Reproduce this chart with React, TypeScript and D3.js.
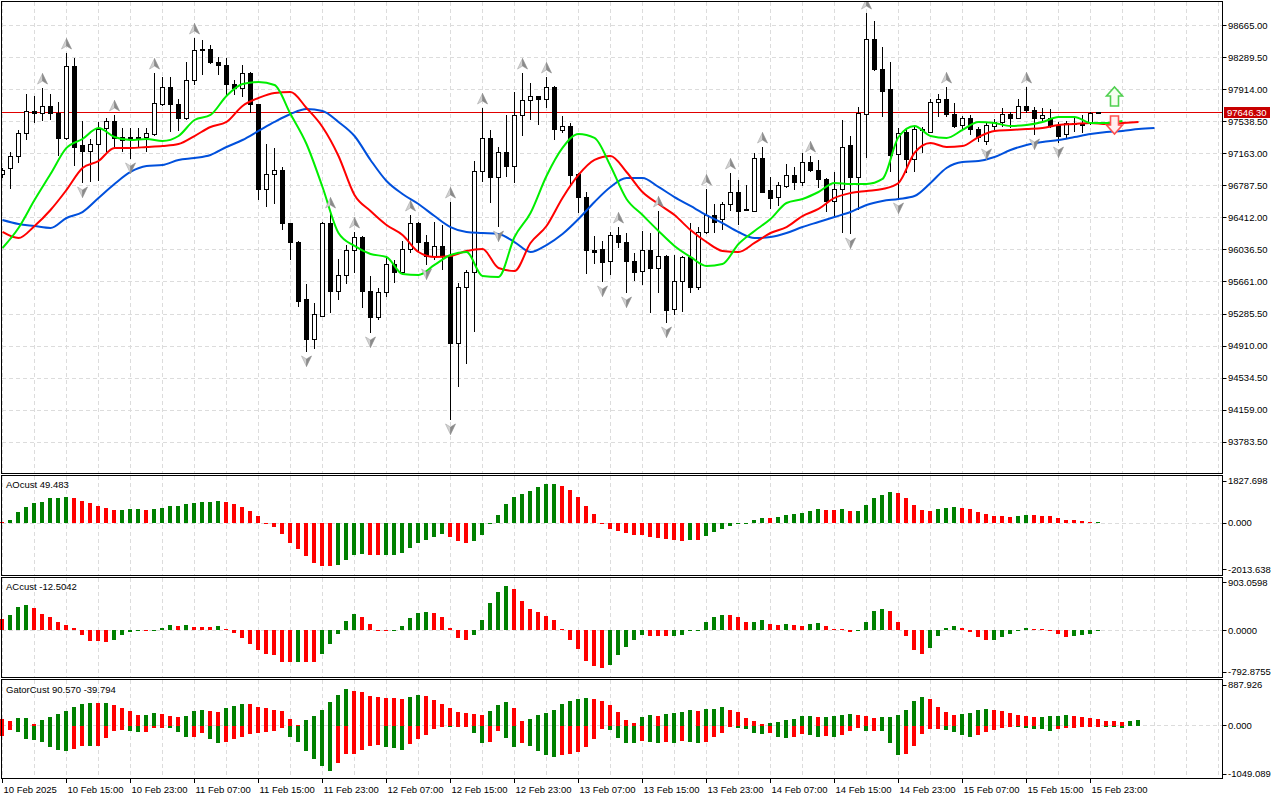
import * as d3 from 'd3';

// ---- price axis / labels ----
const priceTicks = [98665.0, 98289.5, 97914.0, 97538.5, 97163.0, 96787.5, 96412.0, 96036.5, 95661.0, 95285.5, 94910.0, 94534.5, 94159.0, 93783.5];
const lastPrice = 97646.3;

const timeLabels = [
  '10 Feb 2025', '10 Feb 15:00', '10 Feb 23:00', '11 Feb 07:00', '11 Feb 15:00', '11 Feb 23:00',
  '12 Feb 07:00', '12 Feb 15:00', '12 Feb 23:00', '13 Feb 07:00', '13 Feb 15:00', '13 Feb 23:00',
  '14 Feb 07:00', '14 Feb 15:00', '14 Feb 23:00', '15 Feb 07:00', '15 Feb 15:00', '15 Feb 23:00',
];
const LABEL_EVERY = 8; // bars between time labels

// ---- H1 candles ----
const open = [
  96917, 96987, 97128, 97398, 97656, 97644, 97715, 97644, 97339, 98184,
  97257, 97187, 97280, 97468, 97539, 97351, 97339, 97339, 97351, 97386,
  97739, 97949, 97739, 97574, 98031, 98390, 98395, 98242, 98207, 97973,
  97926, 98113, 97739, 96741, 96917, 96975, 96342, 96130, 95450, 94992,
  95262, 96353, 95544, 95743, 96025, 96189, 95544, 95250, 95532, 95861,
  95778, 96037, 96342, 96119, 95955, 96072, 95966, 94934, 95591, 95778,
  96952, 97339, 96893, 97175, 97011, 97609, 97785, 97832, 97797, 97949,
  97433, 97480, 96917, 96647, 96025, 96037, 95896, 96201, 96130, 95896,
  95790, 96025, 95825, 95955, 95333, 95661, 95943, 95602, 96236, 96447,
  96389, 96576, 96717, 96506, 96494, 97105, 96729, 96647, 96787, 96905,
  96834, 97069, 96964, 96858, 96611, 96752, 97257, 96893, 97621, 98501,
  98160, 97914, 97152, 97421, 97093, 97433, 97421, 97762, 97808, 97632,
  97492, 97574, 97456, 97315, 97480, 97527, 97621, 97585, 97715, 97679,
  97574, 97585, 97503, 97386, 97515, 97510, 97515, 97650,
];
const high = [
  96999, 97187, 97445, 97867, 97844, 97937, 97867, 97773, 98348, 98289,
  97550, 97339, 97539, 97585, 97621, 97468, 97468, 97468, 97468, 98113,
  98067, 98067, 97808, 98242, 98524, 98501, 98442, 98301, 98289, 98031,
  98207, 98125, 97750, 97280, 97234, 97011, 96353, 96142, 95638, 95415,
  96365, 96482, 95931, 96095, 96248, 96201, 95732, 95591, 95955, 95919,
  96142, 96447, 96365, 96213, 96365, 96330, 96600, 95649, 95802, 97081,
  97703, 97445, 97245, 97621, 97890, 98113, 97996, 97844, 98067, 97961,
  97609, 97527, 96940, 96717, 96201, 96142, 96248, 96306, 96236, 96001,
  96260, 96236, 96494, 95978, 95978, 95966, 96353, 96306, 96752, 96576,
  96600, 96940, 96858, 96799, 97175, 97245, 96893, 96834, 97046, 97011,
  97175, 97140, 97093, 96881, 96952, 97562, 97374, 97715, 98817, 98724,
  98419, 98242, 97468, 97468, 97492, 97480, 97808, 97867, 97949, 97762,
  97609, 97621, 97480, 97539, 97574, 97703, 97656, 97808, 97949, 97715,
  97703, 97691, 97539, 97550, 97609, 97621, 97656, 97660,
];
const low = [
  96881, 96752, 97057, 97327, 97527, 97550, 97562, 97140, 97327, 97022,
  96823, 96834, 96846, 97187, 97245, 97187, 97105, 97234, 97187, 97374,
  97727, 97421, 97433, 97562, 97973, 98090, 98219, 98090, 97855, 97855,
  97832, 97644, 96623, 96541, 96576, 96271, 95919, 95368, 94840, 94875,
  95250, 95297, 95450, 95638, 95767, 95356, 95063, 95215, 95485, 95649,
  95767, 96001, 96013, 95861, 95919, 95802, 94042, 94429, 94699, 95074,
  96834, 96588, 96306, 96893, 96823, 97374, 97562, 97503, 97703, 97327,
  97409, 96776, 96471, 95755, 95872, 95661, 95743, 96060, 95532, 95673,
  95626, 95297, 95532, 95180, 95274, 95309, 95532, 95567, 96224, 96236,
  96271, 96494, 96330, 96494, 96482, 96705, 96518, 96553, 96764, 96741,
  96787, 96952, 96764, 96482, 96435, 96236, 96224, 96506, 97116, 98137,
  97597, 96952, 96635, 96940, 96952, 97175, 97409, 97597, 97597, 97468,
  97445, 97386, 97304, 97269, 97421, 97480, 97468, 97574, 97644, 97386,
  97539, 97468, 97292, 97351, 97421, 97409, 97503, 97632,
];
const close = [
  96964, 97128, 97398, 97656, 97644, 97715, 97644, 97339, 98184, 97245,
  97187, 97280, 97456, 97539, 97339, 97327, 97351, 97351, 97398, 97750,
  97949, 97739, 97574, 98020, 98383, 98385, 98231, 98207, 97973, 97926,
  98113, 97739, 96752, 96917, 96964, 96342, 96130, 95438, 94992, 95274,
  96353, 95544, 95743, 96025, 96189, 95544, 95250, 95532, 95861, 95778,
  96037, 96342, 96119, 95955, 96072, 95955, 94934, 95591, 95778, 96952,
  97339, 96893, 97175, 97011, 97609, 97785, 97832, 97797, 97949, 97445,
  97480, 96905, 96647, 96025, 96013, 95884, 96201, 96130, 95896, 95778,
  96025, 95825, 95955, 95321, 95661, 95943, 95602, 96236, 96447, 96365,
  96576, 96717, 96494, 96500, 97105, 96717, 96635, 96799, 96905, 96834,
  97069, 96964, 96858, 96611, 96752, 97245, 96893, 97644, 98501, 98149,
  97902, 97140, 97409, 97093, 97456, 97456, 97762, 97808, 97621, 97480,
  97574, 97445, 97351, 97492, 97527, 97621, 97585, 97715, 97668, 97574,
  97609, 97492, 97374, 97515, 97510, 97512, 97644, 97646.3,
];

// ---- Alligator (read every LINE_STEP bars, already shifted forward) ----
const LINE_STEP = 2;
const jaw = [
  96389, 96342, 96318, 96295, 96412, 96482, 96647, 96811, 96952, 97022,
  97034, 97093, 97116, 97152, 97245, 97327, 97433, 97539, 97632, 97691,
  97668, 97539, 97374, 97093, 96846, 96694, 96576, 96435, 96306, 96248,
  96236, 96224, 96130, 96013, 96095, 96224, 96400, 96600, 96776, 96881,
  96881, 96776, 96658, 96553, 96447, 96353, 96248, 96177, 96189, 96236,
  96306, 96365, 96424, 96482, 96565, 96611, 96635, 96670, 96823, 96999,
  97069, 97081, 97128, 97210, 97269, 97304, 97327, 97362, 97398, 97421,
  97433, 97456, 97468,
];
const teeth = [
  96248, 96177, 96318, 96506, 96741, 96999, 97081, 97234, 97234, 97245,
  97257, 97280, 97374, 97480, 97539, 97727, 97820, 97879, 97890, 97703,
  97480, 97140, 96682, 96494, 96330, 96213, 96013, 95955, 95966, 96025,
  96048, 95825, 95790, 96119, 96318, 96647, 96917, 97093, 97140, 96952,
  96717, 96576, 96447, 96271, 96130, 96025, 96013, 96119, 96236, 96306,
  96435, 96518, 96647, 96705, 96729, 96752, 96823, 97175, 97292, 97245,
  97257, 97362, 97433, 97445, 97456, 97468, 97503, 97515, 97527, 97515,
  97527, 97539,
];
const lips = [
  96060, 96295, 96623, 96928, 97234, 97339, 97468, 97362, 97327, 97339,
  97315, 97374, 97562, 97621, 97844, 97984, 98008, 97973, 97632, 97280,
  96776, 96236, 96084, 95990, 95955, 95755, 95743, 95861, 95978, 96013,
  95732, 95720, 96189, 96471, 96905, 97234, 97398, 97351, 97022, 96635,
  96447, 96260, 96084, 95955, 95849, 95872, 96107, 96260, 96400, 96588,
  96635, 96717, 96823, 96811, 96811, 96870, 97362, 97492, 97374, 97351,
  97445, 97539, 97527, 97492, 97503, 97539, 97597, 97597, 97527, 97527,
  97550,
];

// ---- Fractals and signal arrows ----
const fractalUp = [5, 8, 14, 19, 24, 41, 44, 51, 56, 60, 65, 68, 77, 82, 88, 91, 95, 101, 108, 118, 128];
const fractalDown = [10, 16, 38, 46, 53, 56, 62, 75, 78, 83, 106, 112, 123, 129, 132];
const signalUp = { bar: 139, price: 97727 };
const signalDown = { bar: 139, price: 97609 };

// ---- Awesome oscillator ----
const ao = [
  40, 130, 465, 707, 855, 925, 1085, 1090, 1142, 1098,
  968, 881, 751, 664, 564, 570, 608, 615, 580, 590,
  664, 751, 755, 811, 855, 898, 925, 955, 911, 825,
  707, 521, 304, -10, -187, -490, -855, -1128, -1432, -1723,
  -1866, -1870, -1823, -1606, -1389, -1345, -1389, -1390, -1385, -1375,
  -1288, -1071, -854, -724, -593, -463, -593, -767, -854, -767,
  -506, -58, 362, 839, 1143, 1273, 1404, 1577, 1707, 1710,
  1621, 1447, 1143, 752, 405, -5, -246, -362, -449, -500,
  -510, -593, -637, -680, -724, -767, -724, -730, -550, -376,
  -246, -116, -20, -10, 145, 232, 225, 275, 362, 405,
  449, 535, 622, 579, 575, 622, 535, 540, 796, 1100,
  1230, 1360, 1317, 1100, 796, 579, 535, 622, 666, 709,
  666, 622, 492, 405, 318, 315, 275, 318, 362, 360,
  318, 315, 232, 145, 140, 70, 35, 49.483,
];
const aoTicks = [1827.698, 0, -2013.638];

// ---- Accelerator oscillator ----
const ac = [
  222, 285, 443, 475, 424, 304, 253, 152, 95, 38,
  -82, -203, -205, -222, -190, -89, -25, -12, -14, -2,
  51, 95, 76, 95, 63, 60, 58, 76, 32, -51,
  -146, -266, -380, -450, -475, -602, -605, -600, -606, -608,
  -456, -266, -63, 171, 317, 253, 114, 13, -3, 10,
  82, 234, 329, 348, 329, 253, 44, -146, -184, -89,
  196, 519, 728, 842, 785, 557, 405, 348, 272, 196,
  25, -184, -354, -582, -677, -715, -658, -468, -316, -184,
  -82, -101, -102, -104, -100, -82, 2, 5, 158, 253,
  291, 289, 253, 158, 160, 196, 120, 101, 120, 100,
  82, 120, 139, 82, 25, 20, -25, 2, 158, 367,
  405, 367, 158, -108, -373, -449, -335, -108, 44, 82,
  44, -32, -127, -184, -180, -127, -70, 5, 44, 25,
  15, -8, -70, -127, -108, -89, -70, -12.5042,
];
const acTicks = [903.0598, 0, -792.8755];

// ---- Gator oscillator ----
const gatorUp = [
  145, 109, 167, 170, 36, 131, 196, 254, 327, 414,
  473, 502, 487, 490, 458, 393, 313, 233, 235, 269,
  265, 218, 200, 205, 313, 349, 313, 310, 378, 436,
  473, 470, 414, 378, 349, 327, 145, 20, 131, 218,
  349, 509, 676, 800, 763, 727, 654, 632, 612, 603,
  574, 618, 662, 640, 553, 465, 378, 291, 269, 247,
  225, 313, 443, 509, 378, 95, 138, 225, 269, 334,
  465, 531, 574, 596, 574, 531, 443, 291, 116, 51,
  182, 225, 222, 247, 269, 291, 334, 313, 356, 358,
  400, 334, 291, 160, 95, 29, 51, 73, 116, 138,
  204, 206, 182, 184, 204, 225, 247, 245, 204, 160,
  182, 184, 225, 334, 531, 618, 574, 400, 291, 225,
  247, 269, 334, 356, 354, 313, 269, 225, 204, 182,
  184, 204, 206, 225, 204, 182, 160, 138, 97, 95,
  90.57, 95, 116,
];
const gatorDown = [
  -218, -95, -131, -291, -313, -342, -458, -516, -545, -509,
  -436, -440, -436, -269, -124, -95, -124, -145, -131, -58,
  -51, -58, -145, -254, -240, -167, -291, -364, -360, -291,
  -254, -182, -167, -145, -109, -51, -254, -342, -545, -727,
  -872, -981, -800, -618, -603, -531, -436, -415, -455, -473,
  -516, -407, -298, -211, -80, -15, -36, -15, -12, -167,
  -364, -342, -124, -276, -451, -385, -429, -538, -625, -669,
  -625, -622, -560, -451, -298, -80, -102, -276, -364, -385,
  -320, -342, -385, -342, -364, -320, -342, -385, -342, -254,
  -167, -10, -58, -80, -167, -189, -167, -233, -276, -233,
  -189, -211, -233, -231, -235, -211, -124, -58, -124, -120,
  -124, -364, -625, -603, -429, -189, -80, -78, -102, -145,
  -211, -254, -211, -145, -102, -58, -15, -36, -58, -60,
  -80, -124, -80, -58, -45, -30, -18, -8, -12, -20,
  -39.794,
];
const gatorTicks = [887.926, 0, -1049.089];

// ---- layout ----
const W = 1280;
const H = 800;
const PLOT_LEFT = 2;
const PLOT_RIGHT = 1222;
const FONT = "'Liberation Sans', Arial, sans-serif";
const FS = 9.5;
const GREEN = '#008000';
const RED = '#ff0000';
const GRID = '#dcdcdc';

const panels = [
  { top: 1.5, bottom: 473.5 },
  { top: 475.5, bottom: 575.5 },
  { top: 577.5, bottom: 677.5 },
  { top: 679.5, bottom: 778.5 },
];

const crisp = (v: number) => Math.round(v - 0.5) + 0.5;

export default function App() {
  const x = d3.scaleLinear().domain([0, 140]).range([2.5, 1122.5]);
  const yMain = d3.scaleLinear().domain([93419.8, 98946.5]).range([473, 2]);
  const yAO = d3.scaleLinear().domain([aoTicks[2], aoTicks[0]]).range([569.3, 481]);
  const yAC = d3.scaleLinear().domain([acTicks[2], acTicks[0]]).range([672, 582.7]);
  const yGator = d3.scaleLinear().domain([gatorTicks[2], gatorTicks[0]]).range([774, 685]);

  const gridBars = d3.range(0, 153, 4);

  const line = (scaleY: any) =>
    d3.line<number>()
      .x((_, k) => x(k * LINE_STEP))
      .y((v) => scaleY(v))
      .curve(d3.curveMonotoneX);

  const histo = (values: number[], scale: any, key: string, useAbs = false) =>
    values.map((v, i) => {
      const prev = i > 0 ? values[i - 1] : v;
      const up = useAbs ? Math.abs(v) > Math.abs(prev) : v > prev;
      const y0 = Math.round(scale(0));
      const y1 = Math.round(scale(v));
      const top = Math.min(y0, y1);
      const h = Math.max(1, Math.abs(y1 - y0));
      return (
        <rect
          key={key + i}
          x={x(i) - 2.5}
          y={v >= 0 ? top : y0}
          width={4}
          height={h}
          fill={up ? GREEN : RED}
        />
      );
    });

  const axisLabels = (ticks: number[], scale: any, digits: number, key: string) =>
    ticks.map((t, i) => (
      <g key={key + i}>
        <line x1={PLOT_RIGHT + 0.5} x2={PLOT_RIGHT + 4.5} y1={crisp(scale(t))} y2={crisp(scale(t))} stroke="#000" />
        <text x={PLOT_RIGHT + 6} y={scale(t)} dy="0.36em" fontSize={FS} fill="#000">
          {t.toFixed(digits)}
        </text>
      </g>
    ));

  const fractalArrow = (cx: number, cy: number, dir: number, key: string) => (
    <g key={key} transform={`translate(${cx},${cy}) scale(1,${dir})`}>
      <path d="M0,-5.5L-5,5L0,2Z" fill="#d2d2d2" stroke="#a8a8a8" strokeWidth={0.6} />
      <path d="M0,-5.5L5,5L0,2Z" fill="#8a8a8a" stroke="#8a8a8a" strokeWidth={0.6} />
    </g>
  );

  const lastIdx = gatorDown.length - 1;
  const tagY = Math.round(yMain(lastPrice));

  return (
    <div style={{ position: 'absolute', left: 0, top: 0 }}>
      <svg width={W} height={H} style={{ display: 'block', background: '#fff' }} fontFamily={FONT}>
        <defs>
          <clipPath id="mainClip">
            <rect x={PLOT_LEFT} y={2} width={PLOT_RIGHT - PLOT_LEFT} height={471} />
          </clipPath>
        </defs>

        {/* grids */}
        <g stroke={GRID} strokeDasharray="4,3" shapeRendering="crispEdges">
          {panels.map((p, pi) =>
            gridBars.map((b) => (
              <line key={`vg${pi}-${b}`} x1={x(b)} x2={x(b)} y1={p.top} y2={p.bottom} />
            ))
          )}
          {priceTicks.map((t) => (
            <line key={`hg${t}`} x1={PLOT_LEFT} x2={PLOT_RIGHT} y1={crisp(yMain(t))} y2={crisp(yMain(t))} />
          ))}
          <line x1={PLOT_LEFT} x2={PLOT_RIGHT} y1={crisp(yAO(0))} y2={crisp(yAO(0))} />
          <line x1={PLOT_LEFT} x2={PLOT_RIGHT} y1={crisp(yAC(0))} y2={crisp(yAC(0))} />
          <line x1={PLOT_LEFT} x2={PLOT_RIGHT} y1={crisp(yGator(0))} y2={crisp(yGator(0))} />
        </g>

        {/* main price panel */}
        <g clipPath="url(#mainClip)">
          <line x1={PLOT_LEFT} x2={PLOT_RIGHT} y1={crisp(yMain(lastPrice))} y2={crisp(yMain(lastPrice))} stroke="#e00000" shapeRendering="crispEdges" />
          <g shapeRendering="crispEdges">
            {close.map((c, i) => {
              const o = open[i];
              const cx = x(i);
              const yTop = crisp(yMain(Math.max(o, c)));
              const yBot = Math.max(crisp(yMain(Math.min(o, c))), yTop + 1);
              const bull = c >= o;
              return (
                <g key={`c${i}`}>
                  <line x1={cx} x2={cx} y1={Math.round(yMain(high[i]))} y2={Math.round(yMain(low[i]))} stroke="#000" />
                  <rect x={cx - 2} y={yTop} width={4} height={yBot - yTop} fill={bull ? '#fff' : '#000'} stroke="#000" />
                </g>
              );
            })}
          </g>
          <path d={line(yMain)(jaw) || ''} fill="none" stroke="#0050dc" strokeWidth={2} />
          <path d={line(yMain)(teeth) || ''} fill="none" stroke="#ff0000" strokeWidth={2} />
          <path d={line(yMain)(lips) || ''} fill="none" stroke="#00ee00" strokeWidth={2} />

          {fractalUp.map((b) => fractalArrow(x(b), yMain(high[b]) - 9, 1, `fu${b}`))}
          {fractalDown.map((b) => fractalArrow(x(b), yMain(low[b]) + 9, -1, `fd${b}`))}

          {(() => {
            const cx = x(signalUp.bar);
            const y0 = yMain(signalUp.price);
            return (
              <path
                d={`M${cx - 4},${y0}L${cx - 4},${y0 - 10}L${cx - 8},${y0 - 10}L${cx},${y0 - 19}L${cx + 8},${y0 - 10}L${cx + 4},${y0 - 10}L${cx + 4},${y0}Z`}
                fill="#f6fff0"
                stroke="#50d050"
                strokeWidth={1.6}
              />
            );
          })()}
          {(() => {
            const cx = x(signalDown.bar);
            const y0 = yMain(signalDown.price);
            return (
              <path
                d={`M${cx - 4},${y0}L${cx - 4},${y0 + 9}L${cx - 8},${y0 + 9}L${cx},${y0 + 18}L${cx + 8},${y0 + 9}L${cx + 4},${y0 + 9}L${cx + 4},${y0}Z`}
                fill="#fff0f0"
                stroke="#ff5050"
                strokeWidth={1.6}
              />
            );
          })()}
        </g>

        {/* indicator histograms */}
        <g shapeRendering="crispEdges">
          {histo(ao, yAO, 'ao')}
          {histo(ac, yAC, 'ac')}
          {histo(gatorUp, yGator, 'gu')}
          {histo(gatorDown, yGator, 'gd', true)}
        </g>

        {/* panel borders */}
        <g fill="none" stroke="#000" shapeRendering="crispEdges">
          {panels.map((p, i) => (
            <rect key={`pb${i}`} x={1.5} y={p.top} width={PLOT_RIGHT - 1} height={p.bottom - p.top} />
          ))}
        </g>

        {/* indicator names */}
        <g fontSize={FS} fill="#000">
          <text x={6} y={488}>{`AOcust ${ao[ao.length - 1].toFixed(3)}`}</text>
          <text x={6} y={590}>{`ACcust ${ac[ac.length - 1].toFixed(4)}`}</text>
          <text x={6} y={692.5}>{`GatorCust ${gatorUp[lastIdx].toFixed(3)} ${gatorDown[lastIdx].toFixed(3)}`}</text>
        </g>

        {/* right axes */}
        {axisLabels(priceTicks, yMain, 2, 'pt')}
        {axisLabels(aoTicks, yAO, 3, 'aot')}
        {axisLabels(acTicks, yAC, 4, 'act')}
        {axisLabels(gatorTicks, yGator, 3, 'gt')}

        {/* last price tag */}
        <rect x={PLOT_RIGHT + 2} y={tagY - 6} width={46} height={11} fill="#c80000" />
        <text x={PLOT_RIGHT + 5} y={tagY - 0.5} dy="0.36em" fontSize={FS} fill="#fff">
          {lastPrice.toFixed(2)}
        </text>

        {/* time axis */}
        {timeLabels.map((t, i) => {
          const tx = crisp(x(i * LABEL_EVERY));
          return (
            <g key={`tl${i}`}>
              <line x1={tx} x2={tx} y1={778.5} y2={783} stroke="#000" shapeRendering="crispEdges" />
              <text x={tx + 1} y={792.5} fontSize={FS} fill="#000">{t}</text>
            </g>
          );
        })}
      </svg>
    </div>
  );
}
